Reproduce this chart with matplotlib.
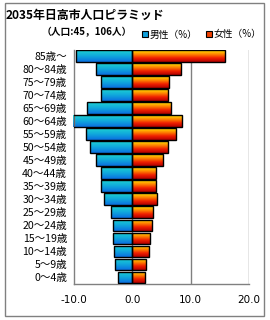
import numpy as np
import matplotlib
matplotlib.use("Agg")
import matplotlib.pyplot as plt
from matplotlib.colors import LinearSegmentedColormap
from matplotlib.patches import Rectangle

plt.rcParams['font.family'] = ['Noto Sans CJK JP', 'DejaVu Sans']

title = "2035年日高市人口ピラミッド"
subtitle = "（人口:45，106人）"
categories = ["85歳～", "80～84歳", "75～79歳", "70～74歳", "65～69歳", "60～64歳",
              "55～59歳", "50～54歳", "45～49歳", "40～44歳", "35～39歳", "30～34歳",
              "25～29歳", "20～24歳", "15～19歳", "10～14歳", "5～9歳", "0～4歳"]
male = [9.7, 6.2, 5.4, 5.4, 7.7, 10.1, 8.0, 7.2, 6.2, 5.3, 5.3, 4.9,
        3.7, 3.4, 3.4, 3.2, 2.9, 2.4]
female = [15.8, 8.4, 6.3, 6.1, 6.6, 8.5, 7.5, 6.1, 5.3, 4.1, 4.0, 4.2,
          3.5, 3.3, 3.1, 2.8, 2.4, 2.1]
xticks = [-10, 0, 10, 20]
legend_labels = ["男性（%）", "女性（%）"]

W, H = 270, 320
fig = plt.figure(figsize=(W / 100, H / 100), dpi=100)

# outer frame
fig.patches.append(Rectangle((5 / W, 4 / H), 259 / W, 313 / H, transform=fig.transFigure,
                             fill=False, edgecolor='#808080', lw=1.0))

ax = fig.add_axes([74 / W, (H - 284) / H, 175 / W, 234.5 / H])

cmap_m = LinearSegmentedColormap.from_list("m", ["#1ed2d2", "#10a8dc", "#0a6ee0"])
cmap_f = LinearSegmentedColormap.from_list("f", ["#ffe600", "#ff8a00", "#f02000", "#b00000"])
grad = np.linspace(0, 1, 64).reshape(-1, 1)

n = len(categories)
ypos = np.arange(n)[::-1]
h = 0.9

ax.axvline(0, color='#808080', lw=1.0, zorder=0)
for v in [10, 20]:
    ax.axvline(v, color='#808080', lw=1.0, zorder=0)

for y, m, f in zip(ypos, male, female):
    for x0, w, cm in [(-m, m, cmap_m), (0, f, cmap_f)]:
        rect = Rectangle((x0, y - h / 2), w, h, facecolor='none', edgecolor='black',
                         lw=1.0, zorder=3)
        ax.add_patch(rect)
        im = ax.imshow(grad, cmap=cm, aspect='auto', origin='upper',
                       extent=(x0, x0 + w, y - h / 2, y + h / 2), zorder=2,
                       interpolation='bilinear')
        im.set_clip_path(rect)

ax.set_xlim(-10, 20)
ax.set_ylim(-0.5, n - 0.5)
ax.set_yticks(ypos)
ax.set_yticklabels(categories, fontsize=7.6)
ax.set_xticks(xticks)
ax.set_xticklabels([f"{v:.1f}" for v in xticks], fontsize=7.5, family='DejaVu Sans')
ax.tick_params(length=0, pad=5)
ax.tick_params(axis='x', pad=8)
for s in ['top', 'right']:
    ax.spines[s].set_visible(False)
for s in ['left', 'bottom']:
    ax.spines[s].set_color('#808080')
    ax.spines[s].set_linewidth(1.0)

fig.text(6 / W, 1 - 19 / H, title, fontsize=8.6, fontweight='bold', ha='left', va='baseline')
fig.text(42 / W, 1 - 35 / H, subtitle, fontsize=7, fontweight='bold', ha='left', va='baseline')

# legend
for x, c, lab in [(142, "#10a0dc", legend_labels[0]), (206, "#f04000", legend_labels[1])]:
    fig.patches.append(Rectangle((x / W, 1 - 37 / H), 6 / W, 6 / H, transform=fig.transFigure,
                                 facecolor=c, edgecolor='black', lw=0.8))
    fig.text((x + 8) / W, 1 - 37.5 / H, lab, fontsize=7, ha='left', va='baseline')

fig.savefig("out.png", dpi=100)
